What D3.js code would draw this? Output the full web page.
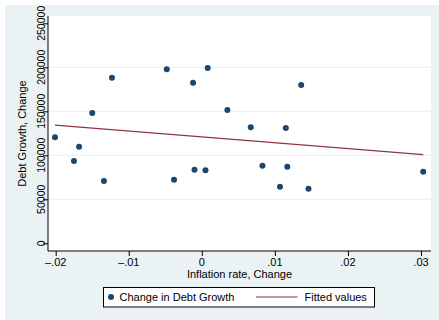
<!DOCTYPE html>
<html>
<head>
<meta charset="utf-8">
<script src="https://cdn.jsdelivr.net/npm/d3@7"></script>
<style>
  body { margin: 0; background: #fff; }
  svg text { font-family: "Liberation Sans", Arial, sans-serif; fill: #000; }
</style>
</head>
<body>
<svg id="chart" width="439" height="320"></svg>
<script>
// Change in inflation rate (x) vs change in debt growth (y)
const inflation = [-0.0201, -0.0175, -0.0168, -0.0150, -0.0134, -0.0123, -0.0048, -0.0038,
  -0.0012, -0.0010, 0.0005, 0.0008, 0.0035, 0.0067, 0.0083, 0.0107, 0.0115, 0.0117,
  0.0136, 0.0146, 0.0303];
const debtGrowth = [120500, 93500, 109800, 148000, 70800, 188200, 197700, 72300,
  182500, 83600, 83000, 199200, 151500, 131800, 88200, 64300, 131000, 87000,
  179900, 62000, 81400];
// fitted values at the ends of the x range
const fitX = [-0.0201, 0.0303];
const fitY = [134400, 100700];
const xTicks = [-0.02, -0.01, 0, 0.01, 0.02, 0.03];
const xTickLabels = ["\u2013.02", "\u2013.01", "0", ".01", ".02", ".03"];
const yTicks = [0, 50000, 100000, 150000, 200000, 250000];

const svg = d3.select("#chart");
const bg = "#eaf2f3";
const navy = "#1a476f";
const maroon = "#90353b";

// outer graph region
svg.append("rect").attr("x", 5).attr("y", 5).attr("width", 434).attr("height", 315).attr("fill", bg);

const plot = { left: 48, right: 431, top: 16, bottom: 251 };
svg.append("rect")
  .attr("x", plot.left).attr("y", plot.top)
  .attr("width", plot.right - plot.left).attr("height", plot.bottom - plot.top)
  .attr("fill", "#fff");

const x = d3.scaleLinear().domain([-0.02, 0.03]).range([55.7, 421]);
const y = d3.scaleLinear().domain([0, 250000]).range([243.3, 23.3]);

// grid lines
svg.append("g").selectAll("line")
  .data(yTicks.filter(d => d > 0 && d < 250000))
  .join("line")
  .attr("x1", plot.left).attr("x2", plot.right)
  .attr("y1", d => y(d)).attr("y2", d => y(d))
  .attr("stroke", bg).attr("stroke-width", 1.2);

// y axis
const yAxis = svg.append("g")
  .attr("transform", `translate(${plot.left},0)`)
  .call(d3.axisLeft(y).tickValues(yTicks).tickSize(5).tickFormat(""));
yAxis.select(".domain").attr("d", `M0,${plot.top}V${plot.bottom}`).attr("stroke", "#000");
yAxis.selectAll(".tick line").attr("stroke", "#000");

svg.append("g").selectAll("text")
  .data(yTicks)
  .join("text")
  .attr("transform", d => `translate(45,${y(d)}) rotate(-90)`)
  .attr("text-anchor", "middle")
  .attr("font-size", 10.5)
  .text(d => d);

// x axis
const xAxis = svg.append("g")
  .attr("transform", `translate(0,${plot.bottom})`)
  .call(d3.axisBottom(x).tickValues(xTicks).tickSize(5).tickFormat(""));
xAxis.select(".domain").attr("d", `M${plot.left},0H${plot.right}`).attr("stroke", "#000");
xAxis.selectAll(".tick line").attr("stroke", "#000");

svg.append("g").selectAll("text")
  .data(xTicks)
  .join("text")
  .attr("x", d => x(d)).attr("y", 266)
  .attr("text-anchor", "middle")
  .attr("font-size", 11)
  .text((d, i) => xTickLabels[i]);

// axis titles
svg.append("text")
  .attr("x", (plot.left + plot.right) / 2).attr("y", 278)
  .attr("text-anchor", "middle").attr("font-size", 11)
  .text("Inflation rate, Change");
svg.append("text")
  .attr("transform", `translate(26,${(plot.top + plot.bottom) / 2}) rotate(-90)`)
  .attr("text-anchor", "middle").attr("font-size", 11)
  .text("Debt Growth, Change");

// fitted line
svg.append("path")
  .datum(fitX.map((d, i) => [d, fitY[i]]))
  .attr("d", d3.line().x(d => x(d[0])).y(d => y(d[1])))
  .attr("fill", "none").attr("stroke", maroon).attr("stroke-width", 1.2);

// scatter
svg.append("g").selectAll("circle")
  .data(inflation.map((d, i) => [d, debtGrowth[i]]))
  .join("circle")
  .attr("cx", d => x(d[0])).attr("cy", d => y(d[1]))
  .attr("r", 3).attr("fill", navy);

// legend
const lg = svg.append("g");
lg.append("rect").attr("x", 103.5).attr("y", 287.5).attr("width", 271).attr("height", 19.5)
  .attr("fill", "#fff").attr("stroke", "#000").attr("stroke-width", 1);
lg.append("circle").attr("cx", 111).attr("cy", 297).attr("r", 3).attr("fill", navy);
lg.append("text").attr("x", 119.5).attr("y", 301).attr("font-size", 11).text("Change in Debt Growth");
lg.append("line").attr("x1", 256).attr("x2", 297.5).attr("y1", 297).attr("y2", 297)
  .attr("stroke", maroon).attr("stroke-width", 1.2);
lg.append("text").attr("x", 304.5).attr("y", 301).attr("font-size", 11).text("Fitted values");
</script>
</body>
</html>
